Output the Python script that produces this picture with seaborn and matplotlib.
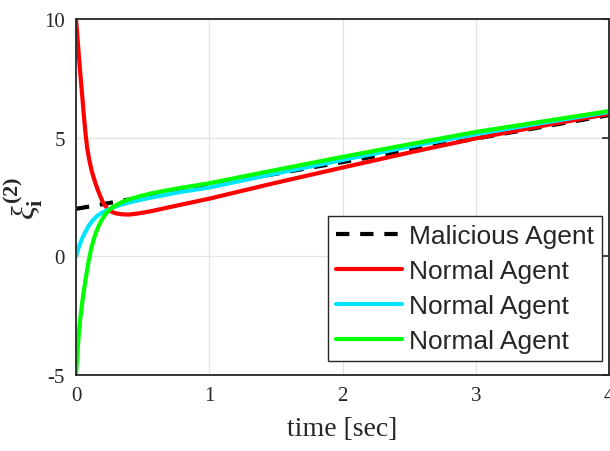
import matplotlib
matplotlib.use("Agg")
import matplotlib.pyplot as plt
import seaborn as sns

# ---- data ----
t_mal = [0, 1, 2, 3, 4]
mal = [2.0, 2.99, 3.97, 4.96, 5.95]

t_red = [0, 0.01, 0.02, 0.03, 0.04, 0.058, 0.07, 0.083, 0.1, 0.12, 0.145, 0.16,
         0.182, 0.2, 0.22, 0.245, 0.27, 0.3, 0.345, 0.4, 0.47, 0.57, 0.75,
         1.0, 1.5, 2.0, 2.5, 3.0, 3.5, 4.0]
red = [10, 9.3, 8.55, 7.85, 7.2, 6.0, 5.25, 4.6, 4.05, 3.55, 3.1, 2.85,
       2.54, 2.3, 2.12, 1.97, 1.87, 1.81, 1.77, 1.76, 1.81, 1.91, 2.13,
       2.43, 3.1, 3.74, 4.37, 4.97, 5.5, 6.0]

t_cyan = [0, 0.02, 0.045, 0.07, 0.095, 0.125, 0.158, 0.19, 0.22, 0.245, 0.29,
          0.345, 0.45, 0.558, 0.75, 1.0, 1.5, 2.0, 2.5, 3.0, 3.5, 4.0]
cyan = [0, 0.38, 0.74, 1.03, 1.28, 1.51, 1.70, 1.82, 1.91, 1.98, 2.08,
        2.19, 2.34, 2.47, 2.68, 2.9, 3.49, 4.06, 4.62, 5.15, 5.62, 6.08]

t_green = [0, 0.01, 0.02, 0.03, 0.05, 0.07, 0.095, 0.115, 0.133, 0.15, 0.17,
           0.195, 0.22, 0.245, 0.27, 0.3, 0.345, 0.4, 0.47, 0.57, 0.75, 1.0,
           1.5, 2.0, 2.5, 3.0, 3.5, 4.0]
green = [-5, -4.1, -3.35, -2.73, -1.8, -1.04, -0.2, 0.35, 0.72, 1.0, 1.28,
         1.55, 1.77, 1.93, 2.05, 2.15, 2.29, 2.4, 2.52, 2.66, 2.85, 3.08,
         3.64, 4.19, 4.72, 5.24, 5.68, 6.12]

labels = ["Malicious Agent", "Normal Agent", "Normal Agent", "Normal Agent"]
x_ticks = [0, 1, 2, 3, 4]
y_ticks = [-5, 0, 5, 10]

sns.set_style("white")
plt.rcParams["font.family"] = ["Liberation Serif", "DejaVu Serif"]
plt.rcParams["mathtext.fontset"] = "custom"
plt.rcParams["mathtext.rm"] = "Liberation Serif"
plt.rcParams["mathtext.it"] = "Liberation Serif:italic"
plt.rcParams["mathtext.bf"] = "Liberation Serif:bold"

fig = plt.figure(figsize=(6.1, 4.52), dpi=100)
ax = fig.add_axes([76 / 610, 76 / 452, (609 - 76) / 610, (376 - 20) / 452])

lw = 3.0
sns.lineplot(x=t_mal, y=mal, ax=ax, color="black", linewidth=lw,
             label=labels[0], estimator=None)
ax.lines[-1].set_dashes([3.2, 2.6])
sns.lineplot(x=t_red, y=red, ax=ax, color="#ff0000", linewidth=lw,
             label=labels[1], estimator=None)
sns.lineplot(x=t_cyan, y=cyan, ax=ax, color="#00e5ff", linewidth=lw,
             label=labels[2], estimator=None)
sns.lineplot(x=t_green, y=green, ax=ax, color="#00ff00", linewidth=lw,
             label=labels[3], estimator=None)

ax.set_xlim(0, 4)
ax.set_ylim(-5, 10)
ax.set_xticks(x_ticks)
ax.set_yticks(y_ticks)
ax.set_xticklabels([str(v) for v in x_ticks])
ax.set_yticklabels([str(v) for v in y_ticks])
ax.grid(True, color="#e3e3e3", linewidth=0.9)
ax.set_axisbelow(True)

for s in ax.spines.values():
    s.set_visible(True)
    s.set_color("#262626")
    s.set_linewidth(1.3)
ax.tick_params(direction="in", length=5, width=1.2, colors="#262626",
               labelsize=15, top=False, right=True, pad=8)
for lab in ax.get_xticklabels() + ax.get_yticklabels():
    lab.set_color("#262626")

ax.set_xlabel("time [sec]", fontsize=20, color="#262626", labelpad=8)
ax.set_ylabel(r"$\xi_{\mathbf{i}}^{\mathbf{(2)}}$", fontsize=23,
              color="#262626")
ax.yaxis.set_label_coords((45 - 76) / 533, 0.5)

leg = ax.legend(loc="lower right", frameon=True, fancybox=False,
                bbox_to_anchor=((602 - 76) / 533, (376 - 362) / 356),
                borderaxespad=0.0,
                prop={"family": "Liberation Sans", "size": 19},
                handlelength=2.5, handletextpad=0.27, labelspacing=0.42,
                borderpad=0.3)
leg.get_frame().set_edgecolor("#262626")
leg.get_frame().set_linewidth(1.0)
leg.get_frame().set_alpha(1.0)
for h in leg.get_lines():
    h.set_linewidth(lw)

fig.savefig("out.png", dpi=100)
